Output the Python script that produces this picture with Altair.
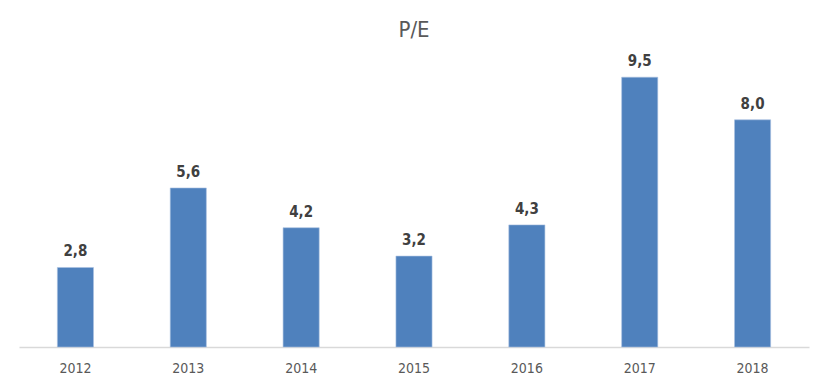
import altair as alt
import pandas as pd

years = ["2012", "2013", "2014", "2015", "2016", "2017", "2018"]
pe_values = [2.8, 5.6, 4.2, 3.2, 4.3, 9.5, 8.0]

df = pd.DataFrame({"year": years, "pe": pe_values})
df["label"] = [f"{v:.1f}".replace(".", ",") for v in pe_values]

FONT = "Liberation Sans Narrow, DejaVu Sans Condensed, Open Sans, sans-serif"

x = alt.X("year:N", sort=years, title=None,
          scale=alt.Scale(paddingInner=0.68, paddingOuter=0.34),
          axis=alt.Axis(labelAngle=0, ticks=False, domainColor="#d9d9d9", domainWidth=1.5,
                        labelColor="#595959", labelFontSize=14, labelFont=FONT,
                        labelPadding=14, grid=False))
y = alt.Y("pe:Q", title=None, scale=alt.Scale(domain=[0, 10]), axis=None)

bars = alt.Chart(df).mark_bar(color="#4f81bd", stroke="#a9c1e0", strokeWidth=0.6).encode(x=x, y=y)
labels = alt.Chart(df).mark_text(baseline="bottom", dy=-8, fontSize=15, fontWeight="bold",
                                 color="#404040", font=FONT).encode(x=x, y=y, text="label:N")

chart = alt.layer(bars, labels).properties(
    width=790, height=284,
    background="white",
    autosize=alt.AutoSizeParams(type="none"),
    padding={"left": 11, "top": 55, "right": 10, "bottom": 32},
    title=alt.TitleParams("P/E", font=FONT, fontSize=22, fontWeight="normal",
                          color="#595959", anchor="middle", offset=12),
).configure_view(strokeWidth=0, stroke="transparent")

chart.save("out.html", embed_options={"renderer": "svg", "actions": False})
